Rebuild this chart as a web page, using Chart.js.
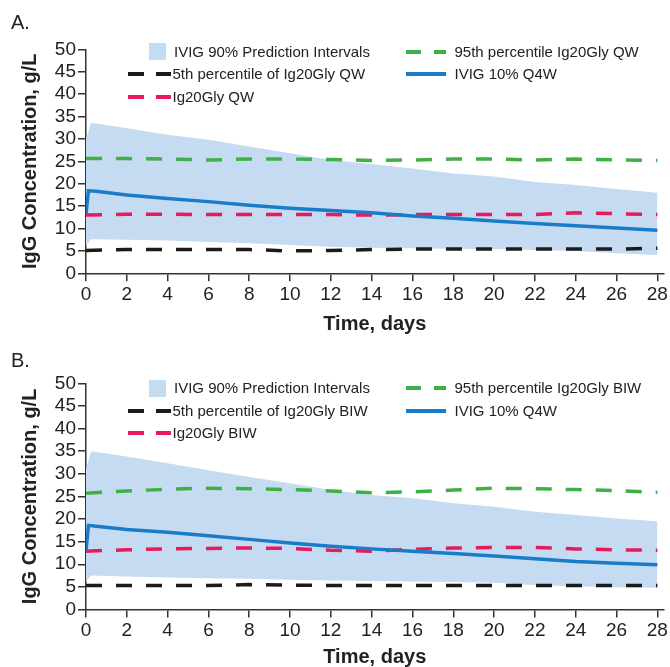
<!DOCTYPE html>
<html><head><meta charset="utf-8">
<script src="https://cdn.jsdelivr.net/npm/chart.js@4.4.0/dist/chart.umd.min.js"></script>
<style>
html,body{margin:0;padding:0;background:#fff;}
body{width:670px;height:667px;position:relative;overflow:hidden;font-family:"Liberation Sans",Arial,sans-serif;}
.panel{position:absolute;left:0;width:670px;}
.plabel{position:absolute;left:11px;font-size:20px;color:#222;line-height:24px;}
.lt{position:absolute;font-size:15px;color:#222;white-space:nowrap;line-height:18px;}
.ls{position:absolute;}
</style>
</head><body>
<div class="panel" id="pA" style="top:0;height:334px;"><canvas id="cA" width="670" height="334"></canvas></div>
<div class="panel" id="pB" style="top:334px;height:333px;"><canvas id="cB" width="670" height="333"></canvas></div>
<script>
// ---------- Data ----------
const xTickValues = [0,2,4,6,8,10,12,14,16,18,20,22,24,26,28];
const yTickValues = [0,5,10,15,20,25,30,35,40,45,50];

const bandDays = [0,0.25,2,4,6,8,10,12,14,16,18,20,22,24,26,28];
const ivigDays = [0,0.12,0.5,2,4,6,8,10,12,14,16,18,20,22,24,26,28];
const pctDays  = [0,2,4,6,8,10,12,14,16,18,20,22,24,26,28];

// Panel A (QW)
const upperA = [30,33.6,32.4,30.9,29.8,28.3,26.8,25.3,24.4,23.4,22.3,21.6,20.4,19.7,18.8,18.0];
const lowerA = [6.2,7.6,7.5,7.3,7.0,6.7,6.3,5.9,5.7,5.6,5.5,5.4,5.2,5.0,4.5,4.1];
const ivigA  = [13.3,18.4,18.3,17.5,16.7,16.0,15.2,14.5,14.0,13.5,12.8,12.3,11.7,11.1,10.6,10.1,9.6];
const p95A   = [25.6,25.6,25.5,25.3,25.5,25.5,25.4,25.2,25.3,25.5,25.5,25.3,25.5,25.3,25.2];
const medA   = [13.0,13.2,13.2,13.1,13.1,13.1,13.1,13.0,13.1,13.1,13.1,13.1,13.5,13.3,13.1];
const p5A    = [5.1,5.3,5.3,5.3,5.3,5.0,5.1,5.3,5.4,5.4,5.4,5.4,5.4,5.4,5.6];

// Panel B (BIW)
const upperB = [31,35.0,33.8,32.3,30.8,29.3,27.9,26.4,25.3,24.6,23.5,22.7,21.6,20.9,20.1,19.5];
const lowerB = [6.3,7.5,7.3,7.1,6.9,6.8,6.6,6.4,6.3,6.2,6.1,5.9,5.4,5.1,4.9,4.8];
const ivigB  = [12.9,18.6,18.4,17.7,17.1,16.3,15.5,14.7,14.0,13.4,12.9,12.4,11.8,11.2,10.6,10.2,9.9];
const p95B   = [25.7,26.2,26.6,26.8,26.7,26.5,26.2,25.8,26.0,26.4,26.8,26.7,26.5,26.3,25.9];
const medB   = [12.9,13.2,13.4,13.5,13.6,13.5,13.1,12.9,13.3,13.6,13.7,13.7,13.4,13.2,13.1];
const p5B    = [5.3,5.3,5.3,5.3,5.5,5.4,5.3,5.3,5.3,5.3,5.3,5.3,5.3,5.3,5.3];

const legendA = ["IVIG 90% Prediction Intervals","5th percentile of Ig20Gly QW","Ig20Gly QW","95th percentile Ig20Gly QW","IVIG 10% Q4W"];
const legendB = ["IVIG 90% Prediction Intervals","5th percentile of Ig20Gly BIW","Ig20Gly BIW","95th percentile Ig20Gly BIW","IVIG 10% Q4W"];

// ---------- Styles ----------
const FAM = '"Liberation Sans", Arial, sans-serif';
const C_BAND = '#c5dbf1', C_BLUE = '#1a7cc9', C_GREEN = '#3db144', C_RED = '#e8195c', C_BLACK = '#1b1b1b', C_AXIS = '#333333', C_TEXT = '#222222';

function pts(xs, ys){ return xs.map((x,i)=>({x:x,y:ys[i]})); }

function makeChart(canvasId, d, xAxisH){
  const dash = [16,14];
  return new Chart(document.getElementById(canvasId), {
    type:'line',
    data:{datasets:[
      {data:pts(ivigDays,d.ivig), borderColor:C_BLUE, borderWidth:3.5, pointRadius:0, fill:false},
      {data:pts(pctDays,d.p95), borderColor:C_GREEN, borderWidth:3.5, borderDash:dash, pointRadius:0, fill:false},
      {data:pts(pctDays,d.med), borderColor:C_RED, borderWidth:3.5, borderDash:dash, pointRadius:0, fill:false},
      {data:pts(pctDays,d.p5), borderColor:C_BLACK, borderWidth:3.5, borderDash:dash, pointRadius:0, fill:false},
      {data:pts(bandDays,d.upper), borderColor:'rgba(0,0,0,0)', borderWidth:0, backgroundColor:C_BAND, pointRadius:0, fill:'+1'},
      {data:pts(bandDays,d.lower), borderColor:'rgba(0,0,0,0)', borderWidth:0, pointRadius:0, fill:false}
    ]},
    options:{
      responsive:false, animation:false, devicePixelRatio:1,
      layout:{padding:{top:49.3,right:6,left:0,bottom:0}},
      plugins:{legend:{display:false}, tooltip:{enabled:false}},
      elements:{line:{tension:0, borderCapStyle:'butt'}},
      scales:{
        x:{type:'linear', min:0, max:28.3,
          afterBuildTicks:s=>{ s.ticks = xTickValues.map(v=>({value:v})); },
          afterFit:s=>{ s.height = xAxisH; },
          grid:{display:true, drawOnChartArea:false, drawTicks:true, tickLength:8, color:C_AXIS, lineWidth:1.5},
          border:{display:true, color:C_AXIS, width:1.5},
          ticks:{padding:2, font:{size:19, family:FAM}, color:C_TEXT, maxRotation:0, autoSkip:false},
          title:{display:true, text:'Time, days', color:C_TEXT, font:{size:20, weight:'bold', family:FAM, lineHeight:1}, padding:{top:0,bottom:0}}
        },
        y:{type:'linear', min:0, max:50,
          afterBuildTicks:s=>{ s.ticks = yTickValues.map(v=>({value:v})); },
          afterFit:s=>{ s.width = 86; },
          grid:{display:true, drawOnChartArea:false, drawTicks:true, tickLength:8, color:C_AXIS, lineWidth:1.5},
          border:{display:true, color:C_AXIS, width:1.5},
          ticks:{padding:2, font:{size:19, family:FAM}, color:C_TEXT, autoSkip:false},
          title:{display:true, text:'IgG Concentration, g/L', color:C_TEXT, font:{size:20, weight:'bold', family:FAM, lineHeight:1.2}, padding:{top:18,bottom:0}}
        }
      }
    }
  });
}

makeChart('cA', {upper:upperA, lower:lowerA, ivig:ivigA, p95:p95A, med:medA, p5:p5A}, 60.7);
makeChart('cB', {upper:upperB, lower:lowerB, ivig:ivigB, p95:p95B, med:medB, p5:p5B}, 57.5);

// ---------- Legends & panel labels (HTML text) ----------
function addEl(parent, cls, css, text){
  const e = document.createElement('div'); e.className = cls;
  Object.assign(e.style, css); if(text!==undefined) e.textContent = text;
  parent.appendChild(e); return e;
}
function buildLegend(panelId, labels, rows, letter, letterY){
  const p = document.getElementById(panelId);
  addEl(p,'plabel',{top:(letterY-12)+'px'}, letter);
  addEl(p,'ls',{left:'149px', top:(rows[0]-8.5)+'px', width:'17px', height:'17px', background:C_BAND});
  addEl(p,'lt',{left:'174px', top:(rows[0]-9)+'px'}, labels[0]);
  [[1,C_BLACK],[2,C_RED]].forEach(([r,c])=>{
    addEl(p,'ls',{left:'128px', top:(rows[r]-2)+'px', width:'16px', height:'4px', background:c});
    addEl(p,'ls',{left:'156px', top:(rows[r]-2)+'px', width:'15px', height:'4px', background:c});
    addEl(p,'lt',{left:'172.5px', top:(rows[r]-9)+'px'}, labels[r]);
  });
  addEl(p,'ls',{left:'406px', top:(rows[0]-2)+'px', width:'15px', height:'4px', background:C_GREEN});
  addEl(p,'ls',{left:'434px', top:(rows[0]-2)+'px', width:'12px', height:'4px', background:C_GREEN});
  addEl(p,'lt',{left:'454.5px', top:(rows[0]-9)+'px'}, labels[3]);
  addEl(p,'ls',{left:'406px', top:(rows[1]-2)+'px', width:'40px', height:'4px', background:C_BLUE});
  addEl(p,'lt',{left:'454.5px', top:(rows[1]-9)+'px'}, labels[4]);
}
buildLegend('pA', legendA, [51.7,74,96.5], 'A.', 21.5);
buildLegend('pB', legendB, [54,76.5,99], 'B.', 26);
</script>
</body></html>
